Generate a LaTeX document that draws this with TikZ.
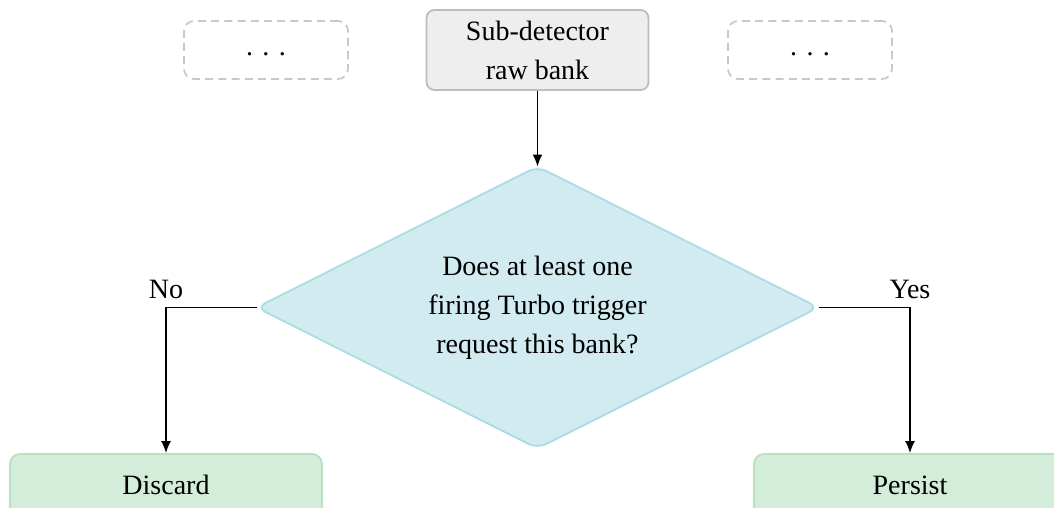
\documentclass[tikz,border=0pt]{standalone}
\usepackage{fontspec}
\setmainfont{Liberation Serif}
\usetikzlibrary{shapes.geometric,arrows.meta}
\definecolor{grayfill}{HTML}{EEEEEE}
\definecolor{grayline}{HTML}{BDBDBD}
\definecolor{dashline}{HTML}{C8C8C8}
\definecolor{decfill}{HTML}{D1EBF0}
\definecolor{decline}{HTML}{ACDBE4}
\definecolor{okfill}{HTML}{D4EDDA}
\definecolor{okline}{HTML}{B9E0C3}
\tikzset{
  basefont/.style={font=\fontsize{14}{19.5}\selectfont},
  srcbox/.style={basefont, draw=grayline, fill=grayfill, line width=0.9pt, rounded corners=4pt,
    minimum width=111pt, minimum height=40pt, align=center, inner sep=2pt},
  ghostbox/.style={basefont, draw=dashline, line width=0.9pt, dash pattern=on 4pt off 2.6pt,
    rounded corners=5pt, minimum width=82pt, minimum height=29pt, text height=6pt, text depth=0pt},
  decbox/.style={basefont, diamond, aspect=2, draw=decline, fill=decfill, line width=0.9pt, rounded corners=5pt,
    minimum width=281pt, minimum height=141pt, align=center, inner sep=0pt, outer sep=0pt},
  outbox/.style={basefont, draw=okline, fill=okfill, line width=0.9pt, rounded corners=5pt,
    minimum width=156pt, minimum height=31pt},
  flow/.style={line width=0.8pt, -{Latex[length=6pt,width=5pt]}},
  lbl/.style={basefont, inner sep=1pt}
}
\begin{document}
\begin{tikzpicture}[x=0.5pt,y=-0.5pt]
\clip (0,0) rectangle (1054,508);
\useasboundingbox (0,0) rectangle (1054,508);
\node[ghostbox] (g1) at (266,50) {. . .};
\node[ghostbox] (g2) at (810,50) {. . .};
\node[srcbox] (src) at (537.5,50) {Sub-detector\\raw bank};
\node[decbox] (dec) at (537.5,307.5) {Does at least one\\firing Turbo trigger\\request this bank?};
\node[outbox] (disc) at (166,485) {Discard};
\node[outbox] (pers) at (910,485) {Persist};
\draw[flow] (src.south) -- (dec.north);
\draw[flow] (dec.west) -| node[pos=0.5, above=3pt, lbl] {No} (disc.north);
\draw[flow] (dec.east) -| node[pos=0.5, above=3pt, lbl] {Yes} (pers.north);
\end{tikzpicture}
\end{document}
